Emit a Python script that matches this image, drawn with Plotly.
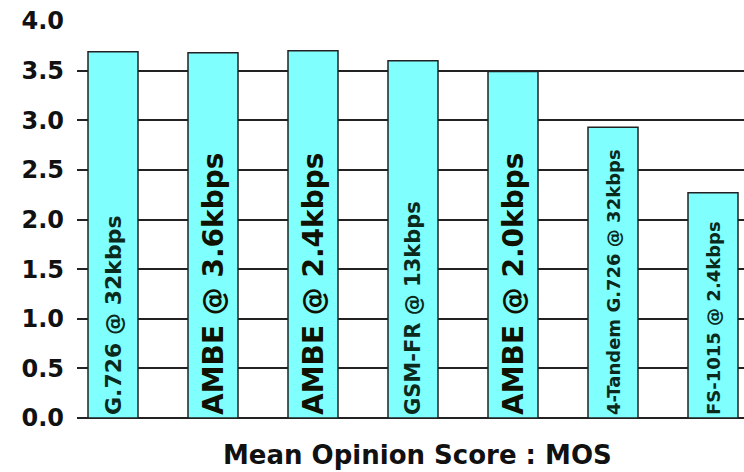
import plotly.graph_objects as go

categories = ["G.726 @ 32kbps", "AMBE @ 3.6kbps", "AMBE @ 2.4kbps", "GSM-FR @ 13kbps",
              "AMBE @ 2.0kbps", "4-Tandem G.726 @ 32kbps", "FS-1015 @ 2.4kbps"]
mos = [3.69, 3.68, 3.70, 3.60, 3.49, 2.93, 2.27]
y_ticks = [0.0, 0.5, 1.0, 1.5, 2.0, 2.5, 3.0, 3.5, 4.0]
y_tick_labels = ["0.0", "0.5", "1.0", "1.5", "2.0", "2.5", "3.0", "3.5", "4.0"]

label_sizes = [22, 28, 28, 21, 28, 18, 18]
label_colors = ["#0b2a1c", "#111100", "#111100", "#0b2a1c", "#111100", "#0b2a1c", "#0b2a1c"]

fig = go.Figure()
fig.add_trace(go.Bar(
    x=list(range(len(categories))),
    y=mos,
    text=categories,
    textposition="inside",
    insidetextanchor="start",
    textangle=-90,
    textfont=dict(family="DejaVu Sans", size=label_sizes, color=label_colors, weight="bold"),
    marker=dict(color="#80FFFF", line=dict(color="#222222", width=1.5)),
    width=0.5,
    hoverinfo="skip",
))

fig.update_layout(
    width=744, height=472,
    margin=dict(l=77, r=0, t=21, b=54),
    plot_bgcolor="white", paper_bgcolor="white",
    showlegend=False,
    xaxis=dict(range=[-0.36, 6.31], showticklabels=False, showgrid=False,
               zeroline=False, showline=False, ticks=""),
    yaxis=dict(range=[0, 4.0], tickvals=y_ticks, ticktext=y_tick_labels,
               showgrid=True, gridcolor="#222222", gridwidth=1.5,
               zeroline=True, zerolinecolor="#222222", zerolinewidth=1.5,
               showline=False, ticks="", ticklabelstandoff=12,
               tickfont=dict(family="DejaVu Sans", size=24, color="#111111", weight="bold")),
    annotations=[dict(text="Mean Opinion Score : MOS", xref="paper", yref="paper",
                      x=0.511, y=-0.094, xanchor="center", yanchor="middle",
                      showarrow=False,
                      font=dict(family="DejaVu Sans", size=26, color="#111111", weight="bold"))],
)

fig.write_html("out.html", config={"displayModeBar": False},
               post_script="document.body.style.margin='0';")
